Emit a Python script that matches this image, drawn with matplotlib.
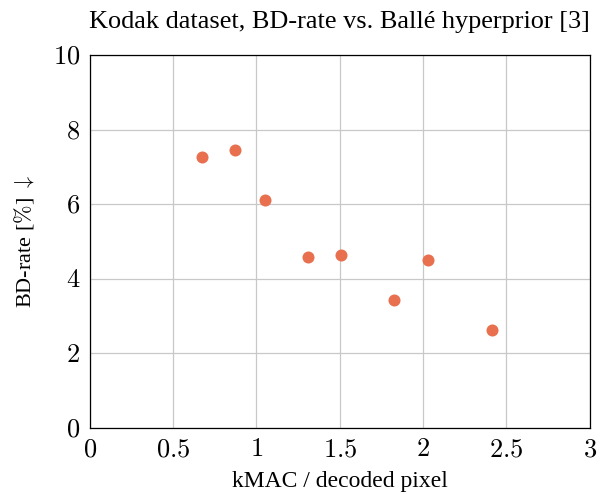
import matplotlib
matplotlib.use("Agg")
import matplotlib.pyplot as plt

kmac = [0.676, 0.870, 1.054, 1.310, 1.506, 1.826, 2.030, 2.414]
bd_rate = [7.27, 7.46, 6.12, 4.58, 4.65, 3.44, 4.51, 2.63]
xticks = [0, 0.5, 1, 1.5, 2, 2.5, 3]
xtick_labels = ["0", "0.5", "1", "1.5", "2", "2.5", "3"]
yticks = [0, 2, 4, 6, 8, 10]
ytick_labels = ["0", "2", "4", "6", "8", "10"]

plt.rcParams['mathtext.fontset'] = 'cm'
plt.rcParams['font.family'] = ['Liberation Serif', 'DejaVu Serif']

fig = plt.figure(figsize=(6.0, 4.94), dpi=100)
ax = fig.add_axes([0.1495, 0.1336, 0.8335, 0.7541])
ax.scatter(kmac, bd_rate, s=75, color='#E8704F', zorder=3, linewidths=0)
ax.set_xlim(0, 3)
ax.set_ylim(0, 10)
ax.set_xticks(xticks)
ax.set_xticklabels(["$" + t + "$" for t in xtick_labels], fontsize=19)
ax.set_yticks(yticks)
ax.set_yticklabels(["$" + t + "$" for t in ytick_labels], fontsize=19)
ax.tick_params(axis='x', direction='in', length=0, pad=8)
ax.tick_params(axis='y', direction='in', length=0, pad=7)
ax.grid(True, color='#c8c8c8', linewidth=0.9)
ax.set_axisbelow(True)
for sp in ax.spines.values():
    sp.set_linewidth(0.9)
ax.set_title("Kodak dataset, BD-rate vs. Ballé hyperprior [3]", fontsize=18.9, pad=20)
ax.set_xlabel("kMAC / decoded pixel", fontsize=17, labelpad=7)
ax.set_ylabel(r"BD-rate [$\%$] $\downarrow$", fontsize=16, labelpad=12)
fig.savefig("out.png", dpi=100)
